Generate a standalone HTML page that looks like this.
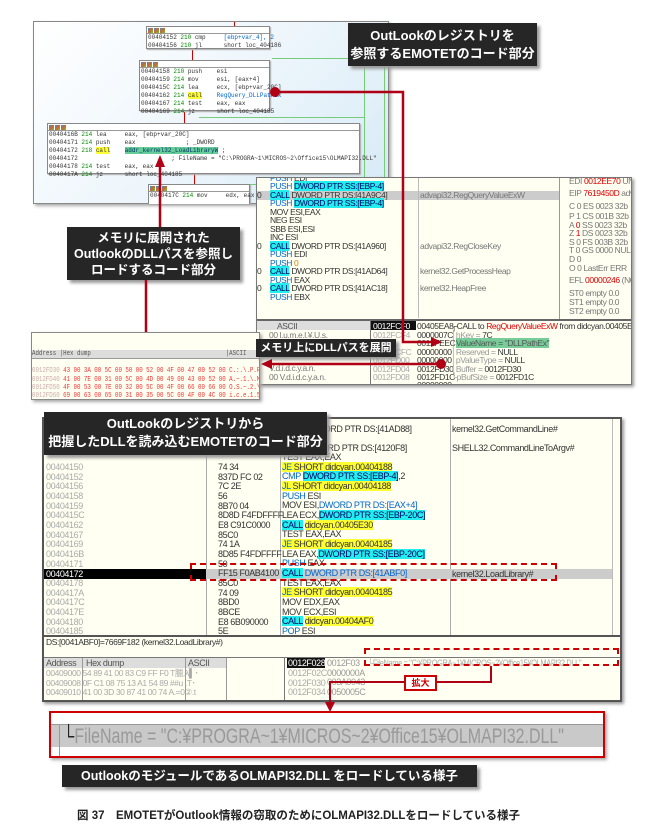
<!DOCTYPE html>
<html><head><meta charset="utf-8">
<style>
*{margin:0;padding:0;box-sizing:border-box}
body{width:651px;height:835px;background:#fff;position:relative;overflow:hidden;font-family:"Liberation Sans","Noto Sans CJK JP",sans-serif}
.a{position:absolute}
.t{position:absolute;white-space:nowrap;line-height:1}
.call{background:#262626;color:#fff;font-weight:bold;text-align:center;box-shadow:3px 3px 3px #999;font-family:"Liberation Sans","Noto Sans CJK JP",sans-serif}
.ib{position:absolute;background:#fff;border:1px solid #888;box-shadow:1px 1px 1px #aaa;font-family:"Liberation Mono",monospace;font-size:6px;color:#333}
.ib .h{height:7px;border-bottom:1px solid #999;background:#fff}
.ib .h i{display:inline-block;width:5px;height:5px;margin:1px 0 0 1px;background:linear-gradient(135deg,#39c,#c63,#6c3)}
.ib div.r{height:8px;line-height:8px;padding-left:1px;white-space:pre}
.g{color:#080}
.dbg{font-family:"Liberation Sans",sans-serif;font-size:8.5px;color:#333;letter-spacing:-0.4px}
.bl{color:#06c}
.cy{background:#2ee;color:#006}
.ye{background:#ff3;color:#333}
.red{color:#d00}
</style></head><body>

<div class="a" style="left:33px;top:21px;width:356px;height:183px;border:1px solid #888;background:linear-gradient(135deg,#fff 0%,#eef6fc 50%,#d6eaf6 100%);box-shadow:2px 2px 3px #aaa;overflow:hidden">
  <div class="a" style="left:200px;top:0;width:1px;height:8px;background:#c00"></div>
  <div class="a" style="left:158px;top:28px;width:1px;height:10px;background:#c00"></div>
  <div class="a" style="left:150px;top:90px;width:1px;height:12px;background:#c00"></div>
  <div class="a" style="left:160px;top:152px;width:1px;height:10px;background:#c00"></div>
  <div class="a" style="left:238px;top:36px;width:140px;height:1px;background:#7c7"></div>
  <div class="a" style="left:330px;top:38px;width:1px;height:145px;background:#7c7"></div>
  <div class="a" style="left:350px;top:38px;width:1px;height:145px;background:#7c7"></div>
  <div class="a" style="left:356px;top:38px;width:1px;height:145px;background:#7c7"></div>
  <div class="a" style="left:165px;top:95px;width:165px;height:1px;background:#7c7"></div>
  <div class="a" style="left:165px;top:162px;width:185px;height:1px;background:#7c7"></div>
</div>
<div class="ib" style="left:146px;top:26px;width:124px;height:23px">
  <div class="h"><i></i><i></i><i></i></div>
  <div class="r">00404152 <span class="g">210</span> cmp     <span class="bl">[ebp+var_4], 2</span></div>
  <div class="r">00404156 <span class="g">210</span> jl      short loc_404186</div>
</div>
<div class="ib" style="left:139px;top:60px;width:131px;height:51px">
  <div class="h"><i></i><i></i><i></i></div>
  <div class="r">00404158 <span class="g">210</span> push    esi</div>
  <div class="r">00404159 <span class="g">214</span> mov     esi, [eax+4]</div>
  <div class="r">0040415C <span class="g">214</span> lea     ecx, [ebp+var_20C]</div>
  <div class="r">00404162 <span class="g">214</span> <span class="ye">call</span>    <span class="bl">RegQuery_DLLPathEx</span></div>
  <div class="r">00404167 <span class="g">214</span> test    eax, eax</div>
  <div class="r">00404169 <span class="g">214</span> jz      short loc_404185</div>
</div>
<div class="ib" style="left:47px;top:123px;width:313px;height:51px">
  <div class="h"><i></i><i></i><i></i></div>
  <div class="r">0040416B <span class="g">214</span> lea     eax, [ebp+var_20C]</div>
  <div class="r">00404171 <span class="g">214</span> push    eax              ; _DWORD</div>
  <div class="r">00404172 <span class="g">218</span> <span class="ye">call</span>    <span style="background:#6c9;color:#036">addr_kernel32_LoadLibraryW</span> ;</div>
  <div class="r">00404172                          ; FileName = "C:\PROGRA~1\MICROS~2\Office15\OLMAPI32.DLL"</div>
  <div class="r">00404178 <span class="g">214</span> test    eax, eax</div>
  <div class="r">0040417A <span class="g">214</span> jz      short loc_404185</div>
</div>
<div class="ib" style="left:148px;top:184px;width:102px;height:20px;border-bottom:none">
  <div class="h"><i></i><i></i><i></i></div>
  <div class="r">0040417C <span class="g">214</span> mov     edx, eax</div>
</div>

<div class="a call" style="left:348px;top:23px;width:189px;height:43px;font-size:13px;line-height:18px;padding-top:4px">OutLookのレジストリを<br>参照するEMOTETのコード部分</div>

<div class="a dbg" style="left:256px;top:177px;width:376px;height:208px;background:#fffff2;border:1px solid #777;box-shadow:2px 2px 3px #999;overflow:hidden">
  <div class="a" style="left:0;top:13px;width:302px;height:9px;background:#ccc"></div>
  <div class="a" style="left:161px;top:0;width:1px;height:140px;background:#bbb"></div>
  <div class="a" style="left:302px;top:0;width:1px;height:142px;background:#999"></div>
  <div class="a" style="left:0;top:141px;width:376px;height:2px;background:#666"></div>
  <div class="t bl" style="left:13px;top:-4px">PUSH <span style="color:#333">EDI</span></div>
  <div class="t" style="left:13px;top:4px"><span class="bl">PUSH</span> <span class="cy">DWORD PTR SS:[EBP-4]</span></div>
  <div class="t" style="left:13px;top:13px"><span class="cy">CALL</span> DWORD PTR DS:[41A9C4]</div>
  <div class="t" style="left:163px;top:13px;color:#777">advapi32.RegQueryValueExW</div>
  <div class="t" style="left:13px;top:21px"><span class="bl">PUSH</span> <span class="cy">DWORD PTR SS:[EBP-4]</span></div>
  <div class="t" style="left:13px;top:30px">MOV ESI,EAX</div>
  <div class="t" style="left:13px;top:38px">NEG ESI</div>
  <div class="t" style="left:13px;top:47px">SBB ESI,ESI</div>
  <div class="t" style="left:13px;top:55px">INC ESI</div>
  <div class="t" style="left:13px;top:64px"><span class="cy">CALL</span> DWORD PTR DS:[41A960]</div>
  <div class="t" style="left:163px;top:64px;color:#777">advapi32.RegCloseKey</div>
  <div class="t" style="left:13px;top:72px"><span class="bl">PUSH</span> EDI</div>
  <div class="t" style="left:13px;top:81px"><span class="bl">PUSH</span> <span style="color:#c80">0</span></div>
  <div class="t" style="left:13px;top:89px"><span class="cy">CALL</span> DWORD PTR DS:[41AD64]</div>
  <div class="t" style="left:163px;top:89px;color:#777">kernel32.GetProcessHeap</div>
  <div class="t" style="left:13px;top:98px"><span class="bl">PUSH</span> EAX</div>
  <div class="t" style="left:13px;top:106px"><span class="cy">CALL</span> DWORD PTR DS:[41AC18]</div>
  <div class="t" style="left:163px;top:106px;color:#777">kernel32.HeapFree</div>
  <div class="t" style="left:13px;top:115px"><span class="bl">PUSH</span> EBX</div>
  <div class="t" style="left:0;top:13px">0</div><div class="t" style="left:0;top:64px">0</div><div class="t" style="left:0;top:89px">0</div><div class="t" style="left:0;top:106px">0</div>
  <div class="t" style="left:312px;top:-1px;color:#777">EDI <span class="red">0012EE70</span> UNI</div>
  <div class="t" style="left:312px;top:11px;color:#777">EIP <span class="red">7619450D</span> adv</div>
  <div class="t" style="left:312px;top:24px;color:#777">C 0  ES 0023 32b</div>
  <div class="t" style="left:312px;top:34px;color:#777">P 1  CS 001B 32b</div>
  <div class="t" style="left:312px;top:43px;color:#777">A <span class="red">0</span>  SS 0023 32b</div>
  <div class="t" style="left:312px;top:51px;color:#777">Z <span class="red">1</span>  DS 0023 32b</div>
  <div class="t" style="left:312px;top:60px;color:#777">S 0  FS 003B 32b</div>
  <div class="t" style="left:312px;top:68px;color:#777">T 0  GS 0000 NUL</div>
  <div class="t" style="left:312px;top:77px;color:#777">D 0</div>
  <div class="t" style="left:312px;top:86px;color:#777">O 0  LastErr ERR</div>
  <div class="t" style="left:312px;top:98px;color:#777">EFL <span class="red">00000246</span> (NO</div>
  <div class="t" style="left:312px;top:111px;color:#777">ST0 empty 0.0</div>
  <div class="t" style="left:312px;top:120px;color:#777">ST1 empty 0.0</div>
  <div class="t" style="left:312px;top:129px;color:#777">ST2 empty 0.0</div>
  <div class="a" style="left:0;top:143px;width:114px;height:9px;background:#ddd"></div>
  <div class="t" style="left:20px;top:144px;color:#555">ASCII</div>
  <div class="t" style="left:12px;top:153px;color:#777">00 l.u.m.e.l.¥.U.s.</div>
  <div class="t" style="left:12px;top:186px;color:#777">   V.d.i.d.c.y.a.n.</div>
  <div class="t" style="left:12px;top:195px;color:#777">00 V.d.i.d.c.y.a.n.</div>
  <div class="a" style="left:113px;top:142px;width:1px;height:66px;background:#777"></div>
  <div class="a" style="left:114px;top:143px;width:45px;height:9px;background:#111"></div>
  <div class="t" style="left:116px;top:144px;color:#fff">0012FCF0</div>
  <div class="t" style="left:116px;top:153px;color:#aaa">0012FCF4</div>
  <div class="t" style="left:116px;top:170px;color:#aaa">0012FCFC</div>
  <div class="t" style="left:116px;top:178px;color:#aaa">0012FD00</div>
  <div class="t" style="left:116px;top:187px;color:#aaa">0012FD04</div>
  <div class="t" style="left:116px;top:195px;color:#aaa">0012FD08</div>
  <div class="t" style="left:160px;top:144px">00405EA8</div>
  <div class="t" style="left:160px;top:153px">0000007C</div>
  <div class="t" style="left:160px;top:161px">0012FEEC</div>
  <div class="t" style="left:160px;top:170px">00000000</div>
  <div class="t" style="left:160px;top:178px">00000000</div>
  <div class="t" style="left:160px;top:187px">0012FD30</div>
  <div class="t" style="left:160px;top:195px">0012FD1C</div>
  <div class="t" style="left:160px;top:203px">00000000</div>
  <div class="t" style="left:194px;top:144px">┌CALL to <span class="red">RegQueryValueExW</span> from didcyan.00405EA5</div>
  <div class="t" style="left:194px;top:153px;color:#999">│hKey = <span style="color:#333">7C</span></div>
  <div class="t" style="left:194px;top:161px;color:#999">│<span style="background:#7c9;color:#555">ValueName = "DLLPathEx"</span></div>
  <div class="t" style="left:194px;top:170px;color:#999">│Reserved = <span style="color:#333">NULL</span></div>
  <div class="t" style="left:194px;top:178px;color:#999">│pValueType = <span style="color:#333">NULL</span></div>
  <div class="t" style="left:194px;top:187px;color:#999">│Buffer = <span style="color:#333">0012FD30</span></div>
  <div class="t" style="left:194px;top:195px;color:#999">└pBufSize = <span style="color:#333">0012FD1C</span></div>
</div>

<div class="a" style="left:31px;top:332px;width:229px;height:68px;background:#fffff2;border:1px solid #888;box-shadow:2px 2px 3px #aaa;overflow:hidden">
 <div style="width:290px;transform:scaleX(0.79);transform-origin:left top;font-family:'Liberation Mono',monospace;font-size:7.3px;line-height:8.4px;color:#e33;white-space:pre">
  <div style="background:#ddd;color:#555;height:9px;border-bottom:1px solid #999">Address |Hex dump                                       |ASCII</div>
<div><span style="color:#caa">0012FD30</span> 43 00 3A 00 5C 00 50 00 52 00 4F 00 47 00 52 00 C.:.\.P.R.O.G.R.</div><div><span style="color:#caa">0012FD40</span> 41 00 7E 00 31 00 5C 00 4D 00 49 00 43 00 52 00 A.~.1.\.M.I.C.R.</div><div><span style="color:#caa">0012FD50</span> 4F 00 53 00 7E 00 32 00 5C 00 4F 00 66 00 66 00 O.S.~.2.\.O.f.f.</div><div><span style="color:#caa">0012FD60</span> 69 00 63 00 65 00 31 00 35 00 5C 00 4F 00 4C 00 i.c.e.1.5.\.O.L.</div><div><span style="color:#caa">0012FD70</span> 4D 00 41 00 50 00 49 00 33 00 32 00 2E 00 44 00 M.A.P.I.3.2...D.</div><div><span style="color:#caa">0012FD80</span> 4C 00 4C 00 00 00 64 00 69 00 64 00 63 00 79 00 L.L...d.i.d.c.y.</div><div><span style="color:#caa">0012FD90</span> 2E 00 65 00 78 00 65 00 00 00 00 00 24 3A 1D 00 ..e.x.e.....$:..</div>
 </div>
</div>

<div class="a call" style="left:67px;top:227px;width:173px;height:53px;font-size:12.5px;line-height:16px;padding-top:3px">メモリに展開された<br>OutlookのDLLパスを参照し<br>ロードするコード部分</div>
<div class="a call" style="left:256px;top:339px;width:140px;height:18px;font-size:11px;line-height:18px">メモリ上にDLLパスを展開</div>

<svg class="a" style="left:0;top:0" width="651" height="420">
  <g stroke="#b00015" stroke-width="2.5" fill="none">
    <polyline points="275,92 403,92 403,342 433,342"/>
    <line x1="441" y1="364" x2="270" y2="364"/>
    <line x1="146" y1="280" x2="146" y2="332"/>
    <line x1="160" y1="227" x2="160" y2="165"/>
  </g>
  <g fill="#b00015">
    <circle cx="275" cy="92" r="5"/>
    <circle cx="441" cy="364" r="5"/>
    <polygon points="442,342 431,337 431,347"/>
    <polygon points="261,364 272,359 272,369"/>
    <polygon points="160,155 155,167 165,167"/>
  </g>
</svg>

<div class="a dbg" style="left:42px;top:417px;width:580px;height:285px;background:#fffff2;border:2px solid #555;box-shadow:2px 2px 3px #999;overflow:hidden;font-size:9px">
  <div class="a" style="left:162px;top:0;width:1px;height:217px;background:#aaa"></div>
  <div class="a" style="left:236px;top:0;width:1px;height:217px;background:#aaa"></div>
  <div class="a" style="left:406px;top:0;width:1px;height:217px;background:#aaa"></div>
  <div class="a" style="left:568px;top:0;width:1px;height:217px;background:#bbb"></div>
  <div class="a" style="left:0;top:150px;width:568px;height:10px;background:#ccc"></div>
  <div class="a" style="left:0;top:150px;width:162px;height:10px;background:#000"></div>
  <div class="t" style="left:2px;top:151px;color:#fff">00404172</div>
  <div class="t" style="left:240px;top:6px;color:#333"><span class="bl">PUSH</span> DWORD PTR DS:[41AD88]</div>
  <div class="t" style="left:408px;top:6px">kernel32.GetCommandLine#</div>
  <div class="t" style="left:240px;top:25px;color:#333"><span class="bl">CALL</span> DWORD PTR DS:[4120F8]</div>
  <div class="t" style="left:408px;top:25px">SHELL32.CommandLineToArgv#</div>
  <div style="position:absolute;left:2px;top:44px;color:#aaa;line-height:9.67px;white-space:pre">00404150
00404152
00404156
00404158
00404159
0040415C
00404162
00404167
00404169
0040416B
00404171

00404178
0040417A
0040417C
0040417E
00404180
00404185</div>
  <div style="position:absolute;left:174px;top:44px;line-height:9.67px;white-space:pre">74 34
837D FC 02
7C 2E
56
8B70 04
8D8D F4FDFFFF
E8 C91C0000
85C0
74 1A
8D85 F4FDFFFF
50
FF15 F0AB4100
85C0
74 09
8BD0
8BCE
E8 6B090000
5E</div>
  <div style="position:absolute;left:238px;top:34px;line-height:9.67px;white-space:pre">TEST EAX,EAX
<span class="ye"><span class="bl">JE</span> SHORT didcyan.00404188</span>
<span class="bl">CMP</span> <span class="cy">DWORD PTR SS:[EBP-4]</span>,2
<span class="ye"><span class="bl">JL</span> SHORT didcyan.00404188</span>
<span class="bl">PUSH</span> ESI
MOV ESI,<span class="bl">DWORD PTR DS:[EAX+4]</span>
LEA ECX,<span class="cy">DWORD PTR SS:[EBP-20C]</span>
<span class="cy">CALL</span> <span class="ye">didcyan.00405E30</span>
TEST EAX,EAX
<span class="ye"><span class="bl">JE</span> SHORT didcyan.00404185</span>
LEA EAX,<span class="cy">DWORD PTR SS:[EBP-20C]</span>
<span class="bl">PUSH</span> EAX
<span class="cy">CALL</span> <span class="bl">DWORD PTR DS:[41ABF0]</span>
TEST EAX,EAX
<span class="ye"><span class="bl">JE</span> SHORT didcyan.00404185</span>
MOV EDX,EAX
MOV ECX,ESI
<span class="cy">CALL</span> <span class="ye">didcyan.00404AF0</span>
<span class="bl">POP</span> ESI</div>
  <div class="t" style="left:408px;top:151px">kernel32.LoadLibrary#</div>
  <div class="a" style="left:0;top:216px;width:576px;height:2px;background:#555"></div>
  <div class="t" style="left:2px;top:219px;font-size:8.5px">DS:[0041ABF0]=7669F182 (kernel32.LoadLibrary#)</div>
  <div class="a" style="left:0;top:238px;width:576px;height:1px;background:#777"></div>
  <div class="a" style="left:0;top:239px;width:182px;height:10px;background:#ddd"></div>
  <div class="t" style="left:2px;top:240px;color:#555">Address</div>
  <div class="t" style="left:42px;top:240px;color:#555">Hex dump</div>
  <div class="t" style="left:144px;top:240px;color:#555">ASCII</div>
  <div class="a" style="left:38px;top:239px;width:1px;height:46px;background:#999"></div>
  <div class="a" style="left:141px;top:239px;width:1px;height:46px;background:#999"></div>
  <div class="a" style="left:182px;top:239px;width:1px;height:46px;background:#999"></div>
  <div style="position:absolute;left:2px;top:250px;color:#aaa;line-height:9.67px;white-space:pre;font-size:8.5px">00409000 54 89 41 00 83 C9 FF F0 T臘.λ▌･
00409008 0F C1 08 75 13 A1 54 89 ##u .T･
00409010 41 00 3D 30 87 41 00 74 A.=0②.t</div>
  <div class="a" style="left:240px;top:239px;width:1px;height:46px;background:#777"></div>
  <div class="a" style="left:243px;top:239px;width:38px;height:10px;background:#111"></div>
  <div class="t" style="left:244px;top:240px;color:#fff">0012F028</div>
  <div style="position:absolute;left:244px;top:250px;color:#aaa;line-height:9.67px;white-space:pre">0012F02C
0012F030
0012F034</div>
  <div style="position:absolute;left:283px;top:240px;color:#999;line-height:9.67px;white-space:pre">0012F03
0000000A
003A0043
0050005C</div>
  <div class="t" style="left:324px;top:240px;color:#aaa;transform:scaleX(0.82);transform-origin:left">└FileName = "C:¥PROGRA~1¥MICROS~2¥Office15¥OLMAPI32.DLL"</div>
</div>
<div class="a" style="left:190px;top:563px;width:367px;height:18px;border:2px dashed #c00"></div>
<div class="a" style="left:364px;top:648px;width:255px;height:18px;border:2px dashed #c00"></div>

<div class="a call" style="left:44px;top:412px;width:283px;height:43px;font-size:13px;line-height:18px;padding-top:3px">OutLookのレジストリから<br>把握したDLLを読み込むEMOTETのコード部分</div>

<svg class="a" style="left:0;top:640px" width="651" height="80">
  <g stroke="#b00015" stroke-width="2" fill="none">
    <polyline points="491,26 491,42 437,42"/>
    <polyline points="404,42 330,42 330,64"/>
  </g>
  <polygon points="330,72 325,62 335,62" fill="#b00015"/>
</svg>
<div class="a" style="left:404px;top:675px;width:33px;height:16px;background:#fff;border:2px solid #c00;color:#c00;font-size:9px;font-weight:bold;text-align:center;line-height:12px">拡大</div>

<div class="a" style="left:49px;top:711px;width:556px;height:47px;border:2px solid #c00;background:#fff;box-shadow:2px 2px 3px #aaa;overflow:hidden">
  <div class="a" style="left:0;top:11px;width:552px;height:23px;background:#c9c9c9;border-top:1px solid #999"></div>
  <div class="a" style="left:8px;top:11px;width:1px;height:34px;background:#999"></div>
  <div class="t" style="left:12px;top:13px;font-size:21px;color:#999;font-family:'Liberation Sans',sans-serif;transform:scaleX(0.76);transform-origin:left"><span style="color:#222">└</span>FileName = "C:¥PROGRA~1¥MICROS~2¥Office15¥OLMAPI32.DLL"</div>
</div>

<div class="a call" style="left:62px;top:765px;width:415px;height:22px;font-size:12.5px;line-height:22px">Outlookのモジュールである<span>OLMAPI32.DLL</span> をロードしている様子</div>

<div class="t" style="left:77px;top:811px;font-size:11.5px;font-weight:bold;color:#222">図 37　EMOTETがOutlook情報の窃取のためにOLMAPI32.DLLをロードしている様子</div>

</body></html>
